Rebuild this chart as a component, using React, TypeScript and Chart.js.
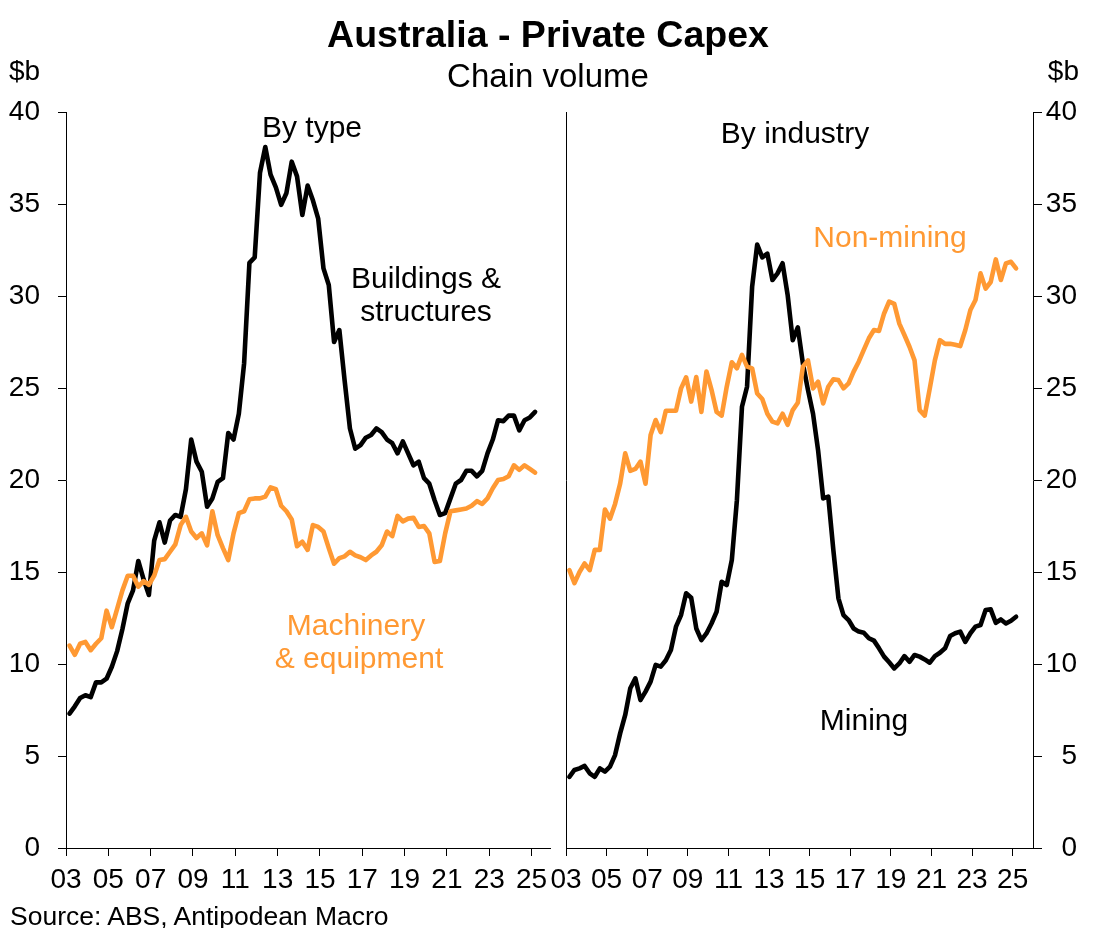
import React, { useEffect, useRef } from "react"
import { Chart, ChartConfiguration, registerables } from "chart.js"

Chart.register(...registerables)

const FONT = "'Liberation Sans', Arial, Helvetica, sans-serif"
const BLACK = "#000000"
const ORANGE = "#FF9933"

// quarterly, Mar-03 .. Mar-25, $b chain volume
const buildings = [
    7.3, 7.7, 8.15, 8.3, 8.2, 9.0, 9.0, 9.2, 9.85, 10.7,
    11.9, 13.3, 14.0, 15.6, 14.6, 13.75, 16.7, 17.7, 16.6, 17.8,
    18.1, 18.0, 19.5, 22.2, 21.0, 20.45, 18.55, 19.0, 19.9, 20.1,
    22.55, 22.2, 23.6, 26.35, 31.8, 32.1, 36.7, 38.1, 36.6, 35.9,
    34.95, 35.6, 37.3, 36.5, 34.4, 36.0, 35.2, 34.2, 31.5, 30.6,
    27.5, 28.15, 25.4, 22.8, 21.7, 21.9, 22.3, 22.45, 22.8, 22.6,
    22.2, 22.0, 21.45, 22.1, 21.45, 20.8, 21.0, 20.1, 19.8, 18.9,
    18.1, 18.2, 19.0, 19.8, 20.0, 20.5, 20.5, 20.2, 20.5, 21.45,
    22.2, 23.25, 23.2, 23.5, 23.5, 22.7, 23.25, 23.4, 23.7,
]
const machinery = [
    11.0, 10.5, 11.1, 11.2, 10.75, 11.1, 11.4, 12.9, 12.0, 13.0,
    14.0, 14.8, 14.8, 14.2, 14.5, 14.3, 14.8, 15.65, 15.7, 16.1,
    16.5, 17.55, 18.0, 17.2, 16.85, 17.1, 16.45, 18.3, 17.0, 16.3,
    15.65, 17.1, 18.2, 18.3, 18.95, 19.0, 19.0, 19.1, 19.6, 19.5,
    18.6, 18.3, 17.85, 16.4, 16.65, 16.2, 17.55, 17.45, 17.2, 16.3,
    15.45, 15.75, 15.85, 16.1, 15.9, 15.8, 15.65, 15.9, 16.1, 16.45,
    17.2, 16.95, 18.05, 17.75, 17.9, 17.95, 17.45, 17.5, 17.1, 15.55,
    15.6, 17.1, 18.3, 18.35, 18.4, 18.45, 18.6, 18.85, 18.7, 19.0,
    19.55, 20.0, 20.05, 20.2, 20.8, 20.55, 20.8, 20.6, 20.4,
]
const mining = [
    3.87, 4.24, 4.33, 4.46, 4.06, 3.87, 4.33, 4.15, 4.42, 5.05,
    6.23, 7.23, 8.68, 9.22, 8.04, 8.5, 9.04, 9.95, 9.86, 10.2,
    10.76, 12.03, 12.66, 13.84, 13.6, 11.93, 11.3, 11.66, 12.2, 12.84,
    14.47, 14.29, 15.65, 18.9, 23.98, 25.07, 30.5, 32.8, 32.1, 32.3,
    30.87, 31.23, 31.78, 30.05, 27.6, 28.3, 26.33, 24.9, 23.6, 21.6,
    19.0, 19.1, 16.2, 13.57, 12.66, 12.39, 11.93, 11.76, 11.7, 11.4,
    11.27, 10.85, 10.4, 10.09, 9.76, 10.03, 10.43, 10.12, 10.49, 10.4,
    10.25, 10.07, 10.43, 10.61, 10.85, 11.52, 11.67, 11.76, 11.2, 11.67,
    12.03, 12.12, 12.93, 12.97, 12.24, 12.42, 12.2, 12.35, 12.57,
]
const nonMining = [
    15.1, 14.4, 15.0, 15.46, 15.1, 16.2, 16.2, 18.4, 17.9, 18.7,
    19.8, 21.45, 20.5, 20.6, 21.0, 19.8, 22.45, 23.26, 22.6, 23.76,
    23.76, 23.76, 24.98, 25.58, 24.26, 25.6, 23.7, 25.9, 24.9, 23.7,
    23.5, 25.07, 26.4, 26.07, 26.8, 26.16, 26.07, 24.7, 24.4, 23.6,
    23.17, 23.08, 23.6, 23.0, 23.8, 24.2, 26.16, 26.5, 24.98, 25.34,
    24.16, 25.07, 25.47, 25.43, 24.98, 25.25, 25.89, 26.43, 27.07, 27.7,
    28.15, 28.1, 29.05, 29.7, 29.57, 28.5, 27.88, 27.24, 26.5, 23.8,
    23.5, 24.98, 26.5, 27.6, 27.4, 27.4, 27.35, 27.28, 28.15, 29.24,
    29.78, 31.23, 30.4, 30.76, 31.99, 30.87, 31.77, 31.86, 31.5,
]

// Mar, Jun, Sep, Dec quarters as decimal years
const quarters = buildings.map((_, i) => 2003 + 2 / 12 + i / 4)
const yearTicks = [2003, 2005, 2007, 2009, 2011, 2013, 2015, 2017, 2019, 2021, 2023, 2025]
const valueTicks = [0, 5, 10, 15, 20, 25, 30, 35, 40]

const tickFont = { family: FONT, size: 28 }

const series = (values: number[], color: string) => ({
    data: values.map((v, i) => ({ x: quarters[i], y: v })),
    borderColor: color,
    backgroundColor: color,
    borderWidth: 4.6,
    pointRadius: 0,
    tension: 0,
    fill: false,
    borderJoinStyle: "round" as const,
    borderCapStyle: "round" as const,
})

const xAxis = (max: number) => ({
    type: "linear" as const,
    min: 2003,
    max,
    afterBuildTicks: (scale: any) => {
        scale.ticks = yearTicks.map((v) => ({ value: v }))
    },
    afterFit: (scale: any) => {
        scale.height = 80
    },
    grid: { display: true, drawOnChartArea: false, drawTicks: true, tickLength: 8, color: BLACK, lineWidth: 1 },
    border: { display: true, color: BLACK, width: 1 },
    ticks: {
        color: BLACK,
        font: tickFont,
        padding: 7,
        maxRotation: 0,
        autoSkip: false,
        callback: (v: any) => String(Number(v) % 100).padStart(2, "0"),
    },
})

const yAxis = (position: "left" | "right", width: number) => ({
    type: "linear" as const,
    position,
    min: 0,
    max: 40,
    afterBuildTicks: (scale: any) => {
        scale.ticks = valueTicks.map((v) => ({ value: v }))
    },
    afterFit: (scale: any) => {
        scale.width = width
    },
    grid: { display: true, drawOnChartArea: false, drawTicks: true, tickLength: position === "left" ? 8 : 9, color: BLACK, lineWidth: 1 },
    border: { display: true, color: BLACK, width: 1 },
    ticks: {
        color: BLACK,
        font: tickFont,
        padding: position === "left" ? 18 : 8,
        crossAlign: position === "left" ? ("near" as const) : ("far" as const),
    },
})

const baseOptions = {
    responsive: false,
    maintainAspectRatio: false,
    animation: false as const,
    events: [],
    plugins: { legend: { display: false }, tooltip: { enabled: false }, title: { display: false } },
}

const leftConfig = (): ChartConfiguration => ({
    type: "line",
    data: {
        datasets: [series(machinery, ORANGE), series(buildings, BLACK)],
    },
    options: {
        ...baseOptions,
        layout: { padding: { top: 112, right: 10, bottom: 0, left: 0 } },
        scales: {
            x: xAxis(2025.87),
            y: yAxis("left", 66),
        },
    } as any,
})

const rightConfig = (): ChartConfiguration => ({
    type: "line",
    data: {
        datasets: [
            { ...series(nonMining, ORANGE), yAxisID: "y" },
            { ...series(mining, BLACK), yAxisID: "y" },
        ],
    },
    options: {
        ...baseOptions,
        layout: { padding: { top: 112, right: 16, bottom: 0, left: 24 } },
        scales: {
            x: xAxis(2026),
            yL: {
                type: "linear",
                position: "left",
                display: true,
                min: 0,
                max: 40,
                grid: { display: false },
                ticks: { display: false },
                border: { display: true, color: BLACK, width: 1 },
                afterFit: (scale: any) => {
                    scale.width = 0
                },
            },
            y: yAxis("right", 44),
        },
    } as any,
})

const Panel = ({ makeConfig, left, width }: { makeConfig: () => ChartConfiguration; left: number; width: number }) => {
    const canvasRef = useRef<HTMLCanvasElement | null>(null)

    useEffect(() => {
        let chart: Chart | undefined
        const ctx = canvasRef.current?.getContext("2d")
        if (ctx) chart = new Chart(ctx, makeConfig())
        return () => {
            if (chart) chart.destroy()
        }
    }, [makeConfig])

    return (
        <canvas
            ref={canvasRef}
            width={width}
            height={928}
            style={{ position: "absolute", left, top: 0, width, height: 928 }}
        />
    )
}

interface ILabel {
    text: string
    x: number
    baseline: number
    size: number
    color?: string
    bold?: boolean
    align?: "left" | "center" | "right"
}

const Label = ({ text, x, baseline, size, color = BLACK, bold = false, align = "center" }: ILabel) => (
    <div
        style={{
            position: "absolute",
            left: x,
            top: baseline - 0.8465 * size,
            fontFamily: FONT,
            fontSize: size,
            lineHeight: `${size}px`,
            fontWeight: bold ? 700 : 400,
            color,
            whiteSpace: "nowrap",
            transform: align === "center" ? "translateX(-50%)" : align === "right" ? "translateX(-100%)" : undefined,
        }}
    >
        {text}
    </div>
)

const App = () => (
    <div style={{ position: "absolute", left: 0, top: 0, width: 1093, height: 928, background: "#fff", overflow: "hidden" }}>
        <Panel makeConfig={leftConfig} left={0} width={560} />
        <Panel makeConfig={rightConfig} left={542} width={551} />

        <Label text="Australia - Private Capex" x={548} baseline={48} size={37.5} bold />
        <Label text="Chain volume" x={548} baseline={87} size={33} />
        <Label text="$b" x={9} baseline={81} size={28} align="left" />
        <Label text="$b" x={1079} baseline={81} size={28} align="right" />

        <Label text="By type" x={312} baseline={137} size={30} />
        <Label text="Buildings &" x={426} baseline={288} size={30} />
        <Label text="structures" x={426} baseline={321} size={30} />
        <Label text="Machinery" x={356} baseline={635} size={30} color={ORANGE} />
        <Label text="& equipment" x={359} baseline={668} size={30} color={ORANGE} />

        <Label text="By industry" x={795} baseline={143} size={30} />
        <Label text="Non-mining" x={890} baseline={247} size={30} color={ORANGE} />
        <Label text="Mining" x={864} baseline={730} size={30} />

        <Label text="Source: ABS, Antipodean Macro" x={10} baseline={925} size={26.5} align="left" />
    </div>
)

export default App
